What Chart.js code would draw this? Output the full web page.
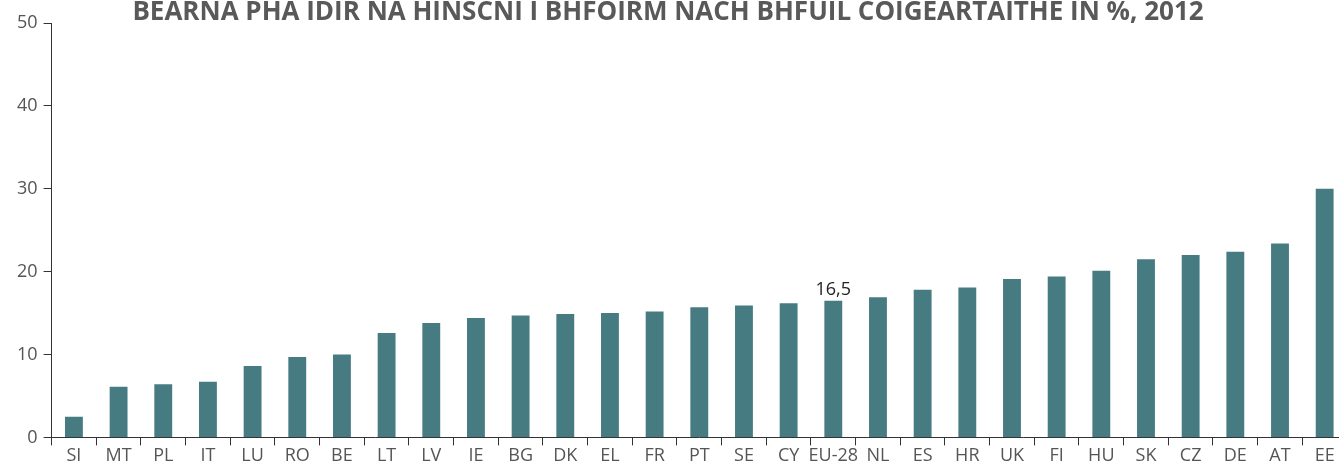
<!DOCTYPE html>
<html>
<head>
<meta charset="utf-8">
<script src="https://cdn.jsdelivr.net/npm/chart.js@4"></script>
<style>
  html, body { margin: 0; padding: 0; overflow: hidden; background: #fff; }
  #wrap { width: 1360px; height: 466px; }
</style>
</head>
<body>
<div id="wrap"><canvas id="myChart"></canvas></div>
<script>
// data
var countries = ["SI","MT","PL","IT","LU","RO","BE","LT","LV","IE","BG","DK","EL","FR","PT","SE","CY","EU-28","NL","ES","HR","UK","FI","HU","SK","CZ","DE","AT","EE"];
var gap = [2.5,6.1,6.4,6.7,8.6,9.7,10.0,12.6,13.8,14.4,14.7,14.9,15.0,15.2,15.7,15.9,16.2,16.5,16.9,17.8,18.1,19.1,19.4,20.1,21.5,22.0,22.4,23.4,30.0];
var yTicks = [0,10,20,30,40,50];
var titleText = "BEARNA PHÁ IDIR NA HINSCNÍ I BHFOIRM NACH BHFUIL COIGEARTAITHE IN %, 2012";
var labelled = "EU-28";

var ctx = document.getElementById('myChart').getContext('2d');

var extras = {
  id: 'extras',
  afterDraw: function(chart) {
    var c = chart.ctx;
    c.save();
    // title, cut at the top like the original
    c.font = "bold 26px 'Open Sans', 'Noto Sans', sans-serif";
    c.fillStyle = '#595959';
    c.textAlign = 'center';
    c.textBaseline = 'alphabetic';
    c.fillText(titleText, 668, 20);
    // value label over EU-28
    var i = countries.indexOf(labelled);
    var x = chart.scales.x.getPixelForValue(i);
    var y = chart.scales.y.getPixelForValue(gap[i]);
    c.font = "18px 'Open Sans', 'Noto Sans', sans-serif";
    c.fillStyle = '#222';
    c.textBaseline = 'bottom';
    c.fillText(String(gap[i]).replace('.', ','), x, y - 2);
    c.restore();
  }
};

var chart = new Chart(ctx, {
  type: 'bar',
  data: {
    labels: countries,
    datasets: [{
      data: gap,
      backgroundColor: '#467b82',
      barPercentage: 0.4,
      categoryPercentage: 1.0
    }]
  },
  options: {
    responsive: true,
    maintainAspectRatio: false,
    animation: false,
    layout: { padding: { top: 23, right: 13, left: 11, bottom: -1 } },
    plugins: { legend: { display: false }, tooltip: { enabled: false } },
    scales: {
      x: {
        grid: { offset: true, drawOnChartArea: false, drawTicks: true, tickLength: 8, color: '#333' },
        border: { color: '#333', width: 1 },
        ticks: {
          color: '#555', padding: 0, maxRotation: 0, autoSkip: false,
          font: { family: "'Open Sans', 'Noto Sans', sans-serif", size: 18 }
        }
      },
      y: {
        min: 0, max: 50,
        afterBuildTicks: function(axis) { axis.ticks = yTicks.map(function(v) { return { value: v }; }); },
        grid: { drawOnChartArea: false, drawTicks: true, tickLength: 8, color: '#333' },
        border: { color: '#333', width: 1 },
        ticks: {
          color: '#555', padding: 6,
          font: { family: "'Open Sans', 'Noto Sans', sans-serif", size: 18 }
        }
      }
    }
  },
  plugins: [extras]
});
</script>
</body>
</html>
